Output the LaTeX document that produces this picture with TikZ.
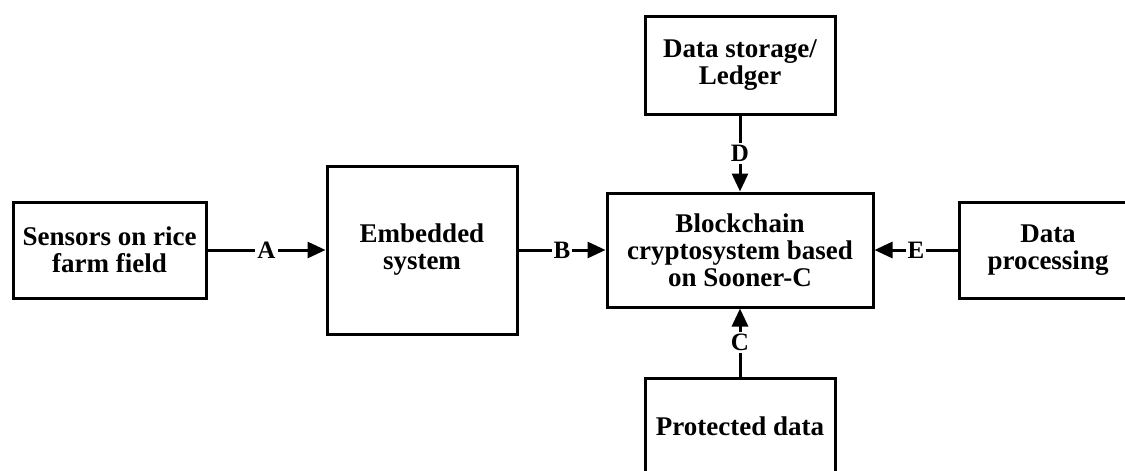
\documentclass[tikz,border=0pt]{standalone}
\usepackage{fontspec}
\setmainfont{Liberation Serif}
\usetikzlibrary{arrows.meta}
\begin{document}
\begin{tikzpicture}[x=1pt,y=-1pt,
  box/.style={draw, line width=3pt, rectangle, inner sep=0pt, align=center,
    font=\fontsize{27pt}{27pt}\selectfont\bfseries},
  conn/.style={line width=3pt, -{Triangle[length=18pt,width=16pt]}},
  lbl/.style={fill=white, inner sep=2pt, font=\fontsize{25pt}{25pt}\selectfont\bfseries}]
\useasboundingbox (0,0) rectangle (1125,471);
\clip (0,0) rectangle (1125,471);
\fill[white] (0,0) rectangle (1125,471);
\node[box, minimum width=193pt, minimum height=96pt] (sensors) at (109.5,250) {Sensors on rice\\farm field};
\node[box, minimum width=190pt, minimum height=168pt] (embedded) at (422,250) {Embedded\\system};
\node[box, minimum width=266pt, minimum height=114pt] (block) at (740,250) {Blockchain\\cryptosystem based\\on Sooner-C};
\node[box, minimum width=190pt, minimum height=98pt] (storage) at (740,65) {Data storage/\\Ledger};
\node[box, minimum width=190pt, minimum height=96pt] (protected) at (740,426) {Protected data};
\node[box, minimum width=178pt, minimum height=96pt] (processing) at (1048,250) {Data\\processing};
\draw[conn] (sensors.east) -- node[lbl]{A} (embedded.west);
\draw[conn] (embedded.east) -- node[lbl]{B} (block.west);
\draw[conn] (processing.west) -- node[lbl]{E} (block.east);
\draw[conn] (storage.south) -- node[lbl]{D} (block.north);
\draw[conn] (protected.north) -- node[lbl]{C} (block.south);
\end{tikzpicture}
\end{document}
